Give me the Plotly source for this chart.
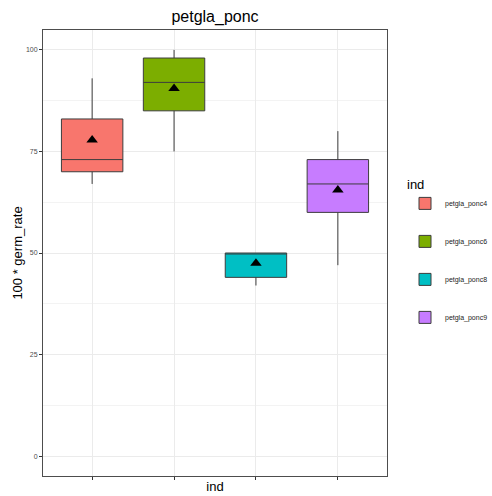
import plotly.graph_objects as go

# Per-group summary statistics of 100 * germ_rate
groups = ["petgla_ponc4", "petgla_ponc6", "petgla_ponc8", "petgla_ponc9"]
lower_whisker = [67, 75, 42, 47]
q1_values = [70, 85, 44, 60]
medians = [73, 92, 50, 67]
q3_values = [83, 98, 50, 73]
upper_whisker = [93, 100, 50, 80]
means = [77.8, 90.5, 47.5, 65.5]
fill_colors = ["#F8766D", "#7CAE00", "#00BFC4", "#C77CFF"]
y_ticks = [0, 25, 50, 75, 100]

fig = go.Figure()

for i, g in enumerate(groups):
    fig.add_trace(go.Box(
        x=[g],
        q1=[q1_values[i]],
        median=[medians[i]],
        q3=[q3_values[i]],
        lowerfence=[lower_whisker[i]],
        upperfence=[upper_whisker[i]],
        name=g,
        legendgroup=g,
        fillcolor=fill_colors[i],
        line=dict(color="#3d3d3d", width=1),
        whiskerwidth=0,
        width=0.75,
        boxpoints=False,
    ))

# Group means as black triangles
fig.add_trace(go.Scatter(
    x=groups,
    y=means,
    mode="markers",
    marker=dict(symbol="triangle-up", size=10, color="black"),
    showlegend=False,
    hoverinfo="skip",
))

fig.update_layout(
    width=492,
    height=496,
    margin=dict(l=43, r=105, t=30, b=20, autoexpand=False),
    paper_bgcolor="white",
    plot_bgcolor="white",
    boxmode="overlay",
    font=dict(family="Liberation Sans, Arial, sans-serif", color="#1a1a1a"),
    title=dict(
        text="petgla_ponc",
        x=(43 + 387) / 2 / 492,
        xanchor="center",
        y=1 - 16 / 496,
        yanchor="middle",
        font=dict(size=16, color="black"),
    ),
    legend=dict(
        title=dict(text="ind", font=dict(size=13, color="black")),
        font=dict(size=7, color="#1a1a1a"),
        xref="container",
        yref="container",
        x=405 / 492,
        xanchor="left",
        y=1 - 172 / 496,
        yanchor="top",
        tracegroupgap=19,
        bgcolor="rgba(0,0,0,0)",
    ),
    showlegend=True,
)

fig.update_xaxes(
    type="category",
    categoryorder="array",
    categoryarray=groups,
    range=[-0.6, 3.6],
    showticklabels=False,
    ticks="outside",
    ticklen=3,
    tickcolor="#333333",
    showgrid=True,
    gridcolor="#EBEBEB",
    gridwidth=1,
    showline=True,
    linecolor="#4d4d4d",
    linewidth=1,
    mirror=True,
    zeroline=False,
    automargin=False,
    title=dict(text="ind", font=dict(size=13, color="black"), standoff=2),
)

fig.update_yaxes(
    range=[-4.9, 104.9],
    tickvals=y_ticks,
    ticktext=[str(v) for v in y_ticks],
    tickfont=dict(size=7, color="#4d4d4d"),
    ticks="outside",
    ticklen=3,
    tickcolor="#333333",
    showgrid=True,
    gridcolor="#EBEBEB",
    gridwidth=1,
    minor=dict(tickvals=[12.5, 37.5, 62.5, 87.5], showgrid=True,
               gridcolor="#F3F3F3", gridwidth=1, ticks=""),
    showline=True,
    linecolor="#4d4d4d",
    linewidth=1,
    mirror=True,
    zeroline=False,
    automargin=False,
    title=dict(text="100 * germ_rate", font=dict(size=13, color="black"), standoff=0),
)

fig.write_html("out.html")
